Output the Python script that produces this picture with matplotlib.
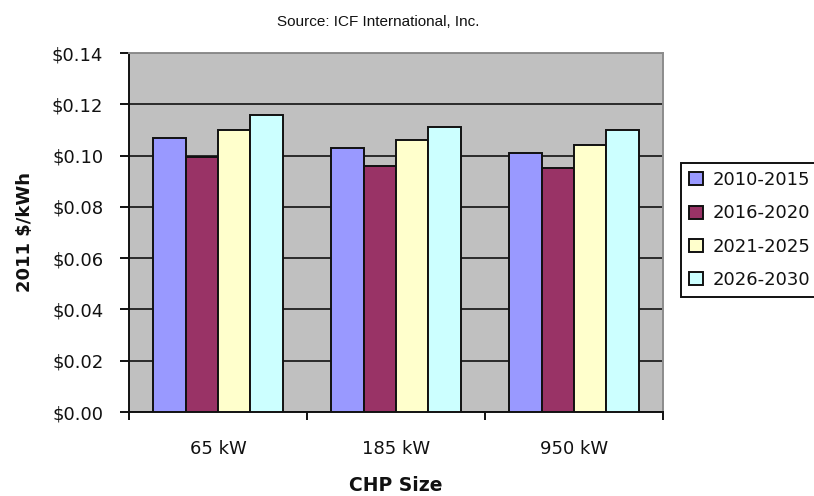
import matplotlib
matplotlib.use("Agg")
import matplotlib.pyplot as plt
from matplotlib.ticker import FuncFormatter, FixedLocator
import numpy as np

# CHP sizes and levelized cost per period (2011 $/kWh)
sizes = ["65 kW", "185 kW", "950 kW"]
periods = ["2010-2015", "2016-2020", "2021-2025", "2026-2030"]
cost_2010_2015 = [0.107, 0.103, 0.101]
cost_2016_2020 = [0.0995, 0.096, 0.095]
cost_2021_2025 = [0.110, 0.106, 0.104]
cost_2026_2030 = [0.116, 0.111, 0.110]
y_ticks = [0.00, 0.02, 0.04, 0.06, 0.08, 0.10, 0.12, 0.14]

series = [cost_2010_2015, cost_2016_2020, cost_2021_2025, cost_2026_2030]
colors = ["#9999FF", "#993366", "#FFFFCC", "#CCFFFF"]

plt.rcParams["font.family"] = ["DejaVu Sans"]
text_color = "#111111"

fig = plt.figure(figsize=(8.14, 4.96), dpi=100)
ax = fig.add_axes([129 / 814, 84 / 496, 534 / 814, 359 / 496])
ax.set_facecolor("#C0C0C0")

x = np.arange(len(sizes))
w = 1 / 5.5
for i, (vals, col, lab) in enumerate(zip(series, colors, periods)):
    ax.bar(x + (i - 1.5) * w, vals, width=w, color=col, edgecolor="#111111",
           linewidth=1.4, label=lab, zorder=3)

ax.set_xlim(-0.5, 2.5)
ax.set_ylim(0, 0.14)
ax.set_yticks(y_ticks)
ax.yaxis.set_major_formatter(FuncFormatter(lambda v, p: f"${v:.2f}"))
ax.yaxis.grid(True, color="#111111", linewidth=1.2, zorder=1)
ax.set_axisbelow(True)

# major x ticks mark the group boundaries, minor ones carry the labels
ax.xaxis.set_major_locator(FixedLocator([-0.5, 0.5, 1.5, 2.5]))
ax.xaxis.set_minor_locator(FixedLocator(x))
ax.set_xticklabels([])
ax.set_xticklabels(sizes, minor=True)
ax.tick_params(axis="x", which="major", length=6, width=1.4, direction="out", color="#111111")
ax.tick_params(axis="x", which="minor", length=0, pad=20, labelsize=13, labelcolor=text_color)
ax.tick_params(axis="y", length=6.5, width=1.4, direction="out", pad=12,
               labelsize=13, labelcolor=text_color, color="#111111")

for s in ["left", "bottom"]:
    ax.spines[s].set_color("#111111")
    ax.spines[s].set_linewidth(1.4)
for s in ["top", "right"]:
    ax.spines[s].set_color("#8C8C8C")
    ax.spines[s].set_linewidth(1.4)

ax.set_xlabel("CHP Size", fontsize=13.5, fontweight="bold", color=text_color)
ax.xaxis.set_label_coords(0.5, -0.178)
ax.set_ylabel("2011 $/kWh", fontsize=13, fontweight="bold", color=text_color)
ax.yaxis.set_label_coords(-0.177, 0.5)

fig.text(378 / 814, 1 - 22 / 496, "Source: ICF International, Inc.",
         ha="center", va="center", fontsize=11, color=text_color,
         family=["Liberation Sans"])

leg = fig.legend(loc="upper left", bbox_to_anchor=(681 / 814, 1 - 163 / 496),
                 borderaxespad=0, fontsize=13, frameon=True, fancybox=False,
                 edgecolor="#111111", facecolor="white", framealpha=1,
                 handlelength=0.75, handleheight=0.75, handletextpad=0.55,
                 labelspacing=0.85, borderpad=0.45)
leg.get_frame().set_linewidth(1.4)
for t in leg.get_texts():
    t.set_color(text_color)

fig.savefig("out.png", dpi=100)
